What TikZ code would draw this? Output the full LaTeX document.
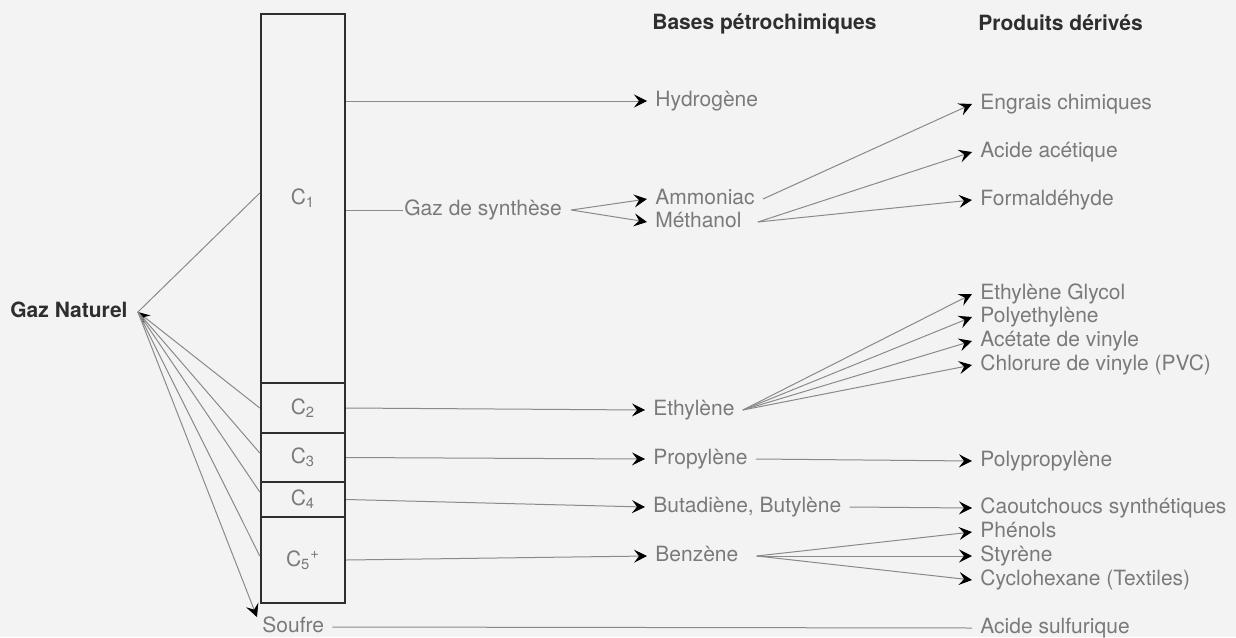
\documentclass[tikz,border=0pt]{standalone}
\usepackage{fontspec}
\setmainfont{TeX Gyre Heros}
\usetikzlibrary{arrows.meta}
\definecolor{bg}{HTML}{F3F3F3}
\definecolor{txt}{HTML}{7A7A7A}
\definecolor{dark}{HTML}{2E2E2E}
\definecolor{ln}{HTML}{8A8A8A}
\begin{document}
\begin{tikzpicture}[x=0.5pt,y=-0.5pt,
  lbl/.style={anchor=west, inner xsep=4pt, inner ysep=0pt, text height=7.5pt, text depth=2pt, font=\fontsize{10.5}{12}\selectfont, text=txt},
  hdr/.style={lbl, font=\fontsize{10.5}{12}\selectfont\bfseries, text=dark},
  frac/.style={draw=dark, line width=1.2pt, minimum width=42pt, inner sep=0pt, font=\fontsize{10.5}{12}\selectfont, text=txt},
  tip/.style={-{Stealth[length=6.5pt,width=6.5pt,inset=2.5pt,color=black]}},
  flow/.style={draw=ln, line width=0.5pt, tip},
  plain/.style={draw=ln, line width=0.5pt}
]
\fill[bg] (0,0) rectangle (1236,637);
\useasboundingbox (0,0) rectangle (1236,637);

% fractions column
\node[frac, minimum height=184.5pt] (c1) at (303,198.5) {C\textsubscript{1}};
\node[frac, minimum height=25pt] (c2) at (303,408) {C\textsubscript{2}};
\node[frac, minimum height=24.5pt] (c3) at (303,457.5) {C\textsubscript{3}};
\node[frac, minimum height=17.5pt] (c4) at (303,499.5) {C\textsubscript{4}};
\node[frac, minimum height=43pt] (c5) at (303,560) {C\textsubscript{5}\textsuperscript{+}};

% headers
\node[hdr] (bases) at (644,24) {Bases pétrochimiques};
\node[hdr] (prod) at (970,25) {Produits dérivés};

% left
\node[hdr] (gaz) at (2,312) {Gaz Naturel};
\node[lbl] (souf) at (254,627) {Soufre};

% bases
\node[lbl] (hyd) at (647,101) {Hydrogène};
\node[lbl, inner xsep=0.5pt] (gds) at (403,210) {Gaz de synthèse};
\node[lbl] (amm) at (647,199) {Ammoniac};
\node[lbl] (met) at (647,222) {Méthanol};
\node[lbl] (eth) at (645,410) {Ethylène};
\node[lbl] (pro) at (645,459) {Propylène};
\node[lbl] (but) at (645,507) {Butadiène, Butylène};
\node[lbl] (ben) at (647,556) {Benzène};

% products
\node[lbl] (eng) at (972,104) {Engrais chimiques};
\node[lbl] (aca) at (972,152) {Acide acétique};
\node[lbl] (frm) at (972,200) {Formaldéhyde};
\node[lbl] (eg) at (972,294) {Ethylène Glycol};
\node[lbl] (pe) at (972,317) {Polyethylène};
\node[lbl] (av) at (972,341) {Acétate de vinyle};
\node[lbl] (pvc) at (972,365) {Chlorure de vinyle (PVC)};
\node[lbl] (pp) at (972,461) {Polypropylène};
\node[lbl] (cao) at (972,508) {Caoutchoucs synthétiques};
\node[lbl] (phe) at (972,532) {Phénols};
\node[lbl] (sty) at (972,556) {Styrène};
\node[lbl] (cyc) at (972,580) {Cyclohexane (Textiles)};
\node[lbl] (acs) at (972,628) {Acide sulfurique};

% gaz naturel to fractions
\coordinate (g0) at ([xshift=1pt]gaz.east);
\draw[plain] (g0) -- ([yshift=2.75pt]c1.west);
\draw[plain, {Stealth[length=6pt,width=5pt,inset=2pt,color=black]}-] (g0) -- (c2.west);
\draw[plain] (g0) -- ([yshift=2.25pt]c3.west);
\draw[plain] (g0) -- ([yshift=3.75pt]c4.west);
\draw[plain] (g0) -- ([yshift=2pt]c5.west);
\draw[flow] (g0) -- ([xshift=1.5pt]souf.north west);

% fractions to bases
\draw[flow] (c1.east |- hyd.west) -- (hyd.west);
\draw[plain] (c1.east |- gds.west) -- (gds.west);
\draw[flow] ([xshift=4pt]gds.east) -- (amm.west);
\draw[flow] ([xshift=4pt]gds.east) -- (met.west);
\draw[flow] (c2.east) -- (eth.west);
\draw[flow] (c3.east) -- (pro.west);
\draw[flow] (c4.east) -- (but.west);
\draw[flow] (c5.east) -- (ben.west);

% bases to products
\draw[flow] (amm.east) -- (eng.west);
\draw[flow] ([xshift=4pt]met.east) -- (aca.west);
\draw[flow] ([xshift=4pt]met.east) -- (frm.west);
\draw[flow] (eth.east) -- (eg.west);
\draw[flow] (eth.east) -- (pe.west);
\draw[flow] (eth.east) -- (av.west);
\draw[flow] (eth.east) -- (pvc.west);
\draw[flow] (pro.east) -- (pp.west);
\draw[flow] (but.east) -- (cao.west);
\draw[flow] ([xshift=5pt]ben.east) -- (phe.west);
\draw[flow] ([xshift=5pt]ben.east) -- (sty.west);
\draw[flow] ([xshift=5pt]ben.east) -- (cyc.west);
\draw[plain] (souf.east) -- (acs.west);
\end{tikzpicture}
\end{document}
